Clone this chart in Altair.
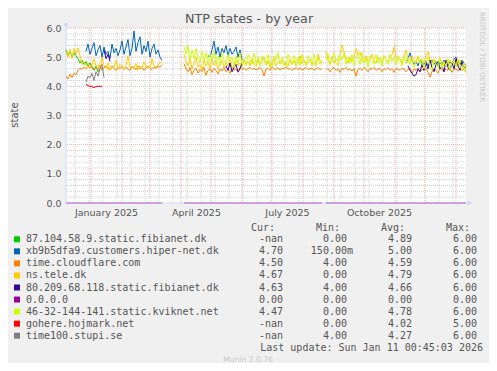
import altair as alt
import pandas as pd

TITLE = "NTP states - by year"
Y_TITLE = "state"
START_DATE = "2024-12-07"
END_DATE = "2026-01-11"
STEP_DAYS = 2

NAMES = ["87.104.58.9.static.fibianet.dk", "xb9b5dfa9.customers.hiper-net.dk",
         "time.cloudflare.com", "ns.tele.dk", "80.209.68.118.static.fibianet.dk",
         "0.0.0.0", "46-32-144-141.static.kviknet.net", "gohere.hojmark.net",
         "time100.stupi.se"]
COLORS = ["#00CC00", "#0066B3", "#FF8000", "#FFCC00", "#330099",
          "#990099", "#CCFF00", "#FF0000", "#808080"]
CUR = ["-nan", "4.70", "4.50", "4.67", "4.63", "0.00", "4.47", "-nan", "-nan"]
MIN = ["0.00", "150.00m", "4.00", "0.00", "4.00", "0.00", "0.00", "0.00", "4.00"]
AVG = ["4.89", "5.00", "4.59", "4.79", "4.66", "0.00", "4.78", "4.02", "4.27"]
MAX = ["6.00", "6.00", "6.00", "6.00", "6.00", "0.00", "6.00", "5.00", "6.00"]
HEADERS = ["Cur:", "Min:", "Avg:", "Max:"]
LAST_UPDATE = "Last update: Sun Jan 11 00:45:03 2026"
FOOTER = "Munin 2.0.76"
WATERMARK = "RRDTOOL / TOBI OETIKER"
X_LABEL_DATES = ["2025-01-16", "2025-04-16", "2025-07-16", "2025-10-16"]
Y_TICKS = [0, 1, 2, 3, 4, 5, 6]

# each series: list of (start index on a 2-day grid from START_DATE, values)
GREEN = [(0, [5.25, 5.05, 5.2, 5.0, 5.15, 5.05, 4.95, 4.8, 4.9, 4.75,
              4.85, 4.7, 4.8, 4.65, 4.55, 4.7, 4.5, 4.6])]
BLUE = [(10, [5.2, 5.45, 5.1, 5.3, 5.5, 5.05, 5.25, 5.4, 5.0, 5.35,
              5.1, 5.2, 4.95, 5.45, 5.15, 5.3, 5.05, 5.25, 5.55, 5.1,
              5.35, 5.6, 5.05, 5.3, 5.9, 5.2, 5.5, 5.7, 5.1, 5.4,
              5.2, 5.55, 5.0, 5.3, 5.45, 5.1, 5.25, 5.0, 4.9]),
        (71, [5.05, 5.0, 5.25, 5.55, 5.1, 5.35, 5.0, 5.3, 5.15, 5.4, 5.05,
              5.3, 5.1, 5.2, 5.35, 5.0, 5.25, 4.9]),
        (170, [4.8, 4.95, 5.15, 4.9, 4.75, 4.85, 4.7, 4.9, 4.8, 4.75,
               4.85, 4.7, 4.8, 4.9, 4.75, 4.85, 4.7, 4.8, 4.75, 4.9,
               4.8, 4.7, 4.85, 4.75, 4.95, 5.0, 4.85, 4.75, 4.9, 4.8, 4.7])]
ORANGE = [(0, [4.35, 4.25, 4.42, 4.3, 4.45, 4.4, 4.55, 4.62, 4.58, 4.66,
               4.6, 4.68, 4.62, 4.7, 4.58, 4.65, 4.6, 4.72, 4.55, 4.63,
               4.7, 4.6, 4.57, 4.68, 4.62, 4.54, 4.66, 4.6, 4.7, 4.58,
               4.65, 4.6, 4.55, 4.68, 4.62, 4.57, 4.7, 4.6, 4.65, 4.55,
               4.63, 4.68, 4.6, 4.58, 4.66, 4.62, 4.7, 4.66, 4.75]),
          (59, [4.78, 4.6, 4.5, 4.65, 4.4, 4.55, 4.62, 4.45, 4.58, 4.5,
                4.65, 4.38, 4.55, 4.6, 4.48, 4.62, 4.55, 4.42, 4.6, 4.52,
                4.65, 4.5, 4.58, 4.45, 4.62, 4.55, 4.6, 4.48, 4.65, 4.58,
                4.62, 4.55, 4.6, 4.65, 4.58, 4.62, 4.56, 4.6, 4.64, 4.58,
                4.35, 4.6, 4.62, 4.55, 4.66, 4.6, 4.58, 4.64, 4.56, 4.62,
                4.6, 4.66, 4.58, 4.62, 4.55, 4.6, 4.64, 4.58, 4.62, 4.56,
                4.6, 4.65, 4.58, 4.6, 4.62, 4.56, 4.6, 4.64, 4.58, 4.6]),
          (130, [4.55, 4.62, 4.5, 4.6, 4.65, 4.55, 4.6, 4.48, 4.62, 4.58,
                 4.65, 4.55, 4.6, 4.52, 4.62, 4.35, 4.58, 4.62, 4.55, 4.65,
                 4.6, 4.5, 4.62, 4.58, 4.65, 4.55, 4.6, 4.62, 4.5, 4.6,
                 4.58, 4.65, 4.55, 4.6, 4.48, 4.62, 4.58, 4.55, 4.62, 4.6,
                 4.5, 4.58, 4.62, 4.45, 4.6, 4.55, 4.62, 4.5, 4.58, 4.55,
                 4.62, 4.48, 4.32, 4.5, 4.6, 4.55, 4.45, 4.62, 4.58, 4.5,
                 4.6, 4.55, 4.62, 4.48, 4.58, 4.6, 4.52, 4.62, 4.55, 4.58,
                 4.5])]
YELLOW = [(0, [5.2, 5.0, 5.28, 4.95, 5.3, 5.1, 5.32, 5.05, 4.75, 4.85,
               4.7, 4.8, 4.65, 4.72, 4.95, 4.68, 4.75, 4.6, 5.0, 4.7,
               4.62, 4.8, 4.55, 4.72, 4.65, 4.9, 4.6, 4.75, 4.68, 4.58,
               4.72, 5.05, 4.65, 4.7, 4.6, 4.78, 4.55, 4.7, 4.62, 4.85,
               4.65, 4.72, 4.6, 4.95, 4.7, 4.65, 4.75, 4.8, 4.85]),
          (59, [5.1, 4.85, 4.7, 4.95, 4.6, 4.8, 5.0, 4.65, 4.75, 4.55,
                4.9, 4.7, 4.82, 4.6, 4.95, 4.72, 4.85, 4.6, 4.78, 4.9,
                4.65, 4.8, 4.7, 4.95, 4.62, 4.75, 4.88, 4.7, 4.8, 4.65,
                4.92, 4.75, 4.85, 4.7, 4.95, 4.78, 4.68, 4.9, 4.75, 4.85,
                5.0, 4.72, 4.88, 4.65, 4.8, 4.95, 4.7, 4.85, 4.78, 4.9,
                4.72, 4.82, 4.68, 4.95, 4.75, 4.88, 4.7, 4.8, 5.05, 4.78,
                4.9, 4.72, 4.85, 4.95, 4.75, 4.82, 4.7, 5.1, 4.88, 4.8]),
          (130, [5.2, 4.9, 4.75, 5.0, 4.8, 4.95, 4.85, 5.1, 5.42, 5.2,
                 4.9, 4.8, 5.0, 4.85, 4.95, 5.3, 5.05, 5.18, 4.9, 4.8,
                 5.05, 4.85, 4.95, 5.1, 4.88, 4.8, 5.0, 4.9, 4.82, 5.05,
                 4.9, 4.85, 5.0, 5.1, 5.35, 5.0, 4.88, 4.95, 4.8, 5.0,
                 5.25, 4.95, 4.85, 5.05, 4.9, 4.8, 5.0, 4.85, 4.92, 4.8,
                 5.0, 5.2, 4.9, 4.8, 4.95, 4.85, 4.75, 4.9, 4.8, 4.7,
                 4.85, 4.78, 4.9, 4.72, 4.8, 4.85, 4.7, 4.9, 4.75, 4.8,
                 4.67])]
INDIGO = [(19, [5.25, 4.95, 5.1, 4.85]),
          (80, [4.7, 4.55, 4.8, 4.5, 4.65, 4.75, 4.5, 4.6, 4.8]),
          (171, [4.7, 4.55, 4.45, 4.35, 4.4, 4.6, 4.5, 4.75, 4.55, 4.8,
                 4.6, 4.9, 4.65, 4.5, 4.75, 4.85, 4.6, 4.7, 4.5, 4.9,
                 4.65, 4.55, 4.8, 4.6, 4.95, 4.7, 4.55, 4.85, 4.65, 4.63])]
MAGENTA = [(0, [0.0] * 49), (59, [0.0] * 70), (130, [0.0] * 71)]
YGREEN = [(59, [5.35, 5.1, 5.4, 4.9, 5.25, 4.95, 5.3, 5.0, 4.8, 5.2,
                4.9, 5.15, 4.75, 5.1, 4.9, 5.2, 4.8, 5.05, 4.7, 5.15,
                4.9, 4.75, 5.1, 4.85, 5.0, 4.65, 5.05, 4.8, 5.15, 4.75,
                4.95, 4.7, 5.1, 4.9, 4.75, 5.15, 4.8, 5.0, 4.7, 5.05,
                4.9, 4.75, 5.1, 4.8, 4.65, 5.05, 4.9, 5.15, 4.75, 5.0,
                4.85, 4.7, 5.1, 4.9, 4.75, 5.05, 4.8, 5.0, 4.72, 5.1,
                4.85, 4.75, 5.05, 4.9, 4.7, 5.1, 4.8, 5.0, 4.75, 4.9]),
          (130, [4.9, 5.1, 4.75, 5.0, 5.15, 4.8, 4.7, 5.05, 4.9, 5.15,
                 4.75, 5.0, 4.8, 5.1, 4.7, 4.95, 5.05, 4.75, 5.15, 4.8,
                 5.0, 4.65, 5.05, 4.9, 4.75, 5.1, 4.8, 5.0, 4.7, 5.05,
                 4.9, 4.75, 5.1, 4.85, 5.0, 4.75, 5.05, 4.9, 4.7, 5.1,
                 4.8, 5.0, 4.75, 4.95, 4.65, 4.85, 5.05, 4.75, 4.95, 4.6,
                 4.85, 5.0, 4.7, 4.55, 4.9, 4.75, 4.65, 5.0, 4.6, 4.85,
                 4.7, 4.95, 4.55, 4.8, 4.9, 4.65, 4.95, 4.7, 4.55, 4.8,
                 4.47])]
RED = [(10, [4.08, 4.02, 4.0, 4.0, 3.95, 4.0, 4.0, 4.0, 4.0])]
GRAY = [(10, [4.15, 4.35, 4.3, 4.45, 4.2, 4.5, 4.35, 4.6, 4.75, 4.3])]

SERIES_SEGMENTS = [GREEN, BLUE, ORANGE, YELLOW, INDIGO, MAGENTA, YGREEN, RED, GRAY]

# ---------------------------------------------------------------- data tables
start = pd.Timestamp(START_DATE)
rows = []
for s, (name, segs) in enumerate(zip(NAMES, SERIES_SEGMENTS)):
    for g, (k0, vals) in enumerate(segs):
        for i, v in enumerate(vals):
            d = start + pd.Timedelta(days=STEP_DAYS * (k0 + i))
            rows.append({"series": name, "seg": f"{s}-{g}",
                         "date": d.strftime("%Y-%m-%d"), "value": v})
df = pd.DataFrame(rows)


def dt(s):
    t = pd.Timestamp(s)
    return alt.DateTime(year=t.year, month=t.month, date=t.day, utc=True)


minor_v = pd.DataFrame({"date": [d.strftime("%Y-%m-%d") for d in
                                 pd.date_range("2024-12-16", END_DATE, freq="14D")]})
major_v = pd.DataFrame({"date": [d.strftime("%Y-%m-%d") for d in
                                 pd.date_range("2025-01-01", END_DATE, freq="MS")]})
minor_h = pd.DataFrame({"value": [i / 5 for i in range(1, 30) if i % 5]})
major_h = pd.DataFrame({"value": [1, 2, 3, 4, 5, 6]})

FONT = "DejaVu Sans"
MONO = "DejaVu Sans Mono"
TXT = "#555555"
GRID = "#D2D2D2"
MGRID = "#EDB0B0"

xscale = alt.Scale(type="utc", domain=[dt(START_DATE), dt(END_DATE)])
xaxis = alt.Axis(values=[dt(d) for d in X_LABEL_DATES],
                 labelExpr="utcFormat(datum.value, '%B %Y')",
                 ticks=False, domain=False, grid=False, labelFont=FONT,
                 labelFontSize=9.5, labelColor=TXT, labelPadding=4,
                 labelFlush=False, labelOverlap=False, title=None)
yaxis = alt.Axis(values=Y_TICKS, format=".1f", ticks=False, domain=False,
                 grid=False, labelFont=FONT, labelFontSize=9.5,
                 labelColor=TXT, labelPadding=5, title=None)
X = alt.X("date:T", scale=xscale, axis=xaxis)
Y = alt.Y("value:Q", scale=alt.Scale(domain=[0, 6], nice=False), axis=yaxis)

layers = []
layers.append(alt.Chart(minor_v).mark_rule(color=GRID, strokeDash=[1, 1], strokeWidth=1).encode(x=X))
layers.append(alt.Chart(minor_h).mark_rule(color=GRID, strokeDash=[1, 1], strokeWidth=1).encode(y=Y))
layers.append(alt.Chart(major_v).mark_rule(color=MGRID, strokeDash=[1, 1], strokeWidth=1).encode(x=X))
layers.append(alt.Chart(major_h).mark_rule(color=MGRID, strokeDash=[1, 1], strokeWidth=1).encode(y=Y))

one = pd.DataFrame({"a": [0]})
AXC = "#CFD6F8"
layers.append(alt.Chart(one).mark_rule(color=AXC, strokeWidth=1).encode(
    x=alt.value(0), y=alt.value(-5), y2=alt.value(175)))
layers.append(alt.Chart(one).mark_rule(color=AXC, strokeWidth=1).encode(
    x=alt.value(0), x2=alt.value(404), y=alt.value(175)))
layers.append(alt.Chart(one).mark_point(shape="triangle-up", filled=True, size=28,
                                        color=AXC, opacity=1).encode(
    x=alt.value(0), y=alt.value(-4)))
layers.append(alt.Chart(one).mark_point(shape="triangle-right", filled=True, size=28,
                                        color=AXC, opacity=1).encode(
    x=alt.value(404), y=alt.value(175)))

for name, color in zip(NAMES, COLORS):
    op = 0.6 if name == "0.0.0.0" else 1
    layers.append(alt.Chart(df).transform_filter(alt.datum.series == name)
                  .mark_line(color=color, strokeWidth=1, opacity=op)
                  .encode(x=X, y=Y, detail="seg:N"))

# texts
layers.append(alt.Chart(pd.DataFrame({"t": [TITLE]})).mark_text(
    font=FONT, fontSize=12.7, color=TXT, align="center", baseline="middle").encode(
    x=alt.value(183), y=alt.value(-9), text="t:N"))
layers.append(alt.Chart(pd.DataFrame({"t": [Y_TITLE]})).mark_text(
    font=FONT, fontSize=10, color=TXT, align="center", baseline="middle", angle=270).encode(
    x=alt.value(-51), y=alt.value(87), text="t:N"))
layers.append(alt.Chart(pd.DataFrame({"t": [WATERMARK]})).mark_text(
    font=FONT, fontSize=7, color="#C8C8C8", align="center", baseline="middle", angle=90).encode(
    x=alt.value(416), y=alt.value(29), text="t:N"))

leg = pd.DataFrame({"name": NAMES, "color": COLORS, "cur": CUR, "mn": MIN,
                    "avg": AVG, "mx": MAX, "i": list(range(len(NAMES)))})
legbase = alt.Chart(leg).transform_calculate(
    ry="211.3 + 12.05 * datum.i",
    mnx="indexof(datum.mn, 'm') >= 0 ? 287 : 281")
RY = alt.Y("ry:Q", scale=None, axis=None)
layers.append(legbase.mark_square(size=36, filled=True, opacity=1).encode(
    x=alt.value(-49), y=RY, color=alt.Color("color:N", scale=None, legend=None)))
tkw = dict(font=MONO, fontSize=10, color=TXT, baseline="middle")
layers.append(legbase.mark_text(align="left", **tkw).encode(x=alt.value(-40), y=RY, text="name:N"))
layers.append(legbase.mark_text(align="right", **tkw).encode(x=alt.value(217), y=RY, text="cur:N"))
layers.append(legbase.mark_text(align="right", **tkw).encode(
    x=alt.X("mnx:Q", scale=None, axis=None), y=RY, text="mn:N"))
layers.append(legbase.mark_text(align="right", **tkw).encode(x=alt.value(346), y=RY, text="avg:N"))
layers.append(legbase.mark_text(align="right", **tkw).encode(x=alt.value(411), y=RY, text="mx:N"))

hdr = pd.DataFrame({"h": HEADERS, "c": list(range(len(HEADERS)))})
layers.append(alt.Chart(hdr).transform_calculate(hx="209 + 65 * datum.c").mark_text(
    align="right", **tkw).encode(x=alt.X("hx:Q", scale=None, axis=None), y=alt.value(200), text="h:N"))
layers.append(alt.Chart(pd.DataFrame({"t": [LAST_UPDATE]})).mark_text(
    align="right", **tkw).encode(x=alt.value(417), y=alt.value(320), text="t:N"))
layers.append(alt.Chart(pd.DataFrame({"t": [FOOTER]})).mark_text(
    font=FONT, fontSize=7.6, color="#C8C8C8", align="center", baseline="middle").encode(
    x=alt.value(182), y=alt.value(332), text="t:N"))

chart = alt.layer(*layers).properties(
    width=400, height=175,
    autosize=alt.AutoSizeParams(type="none"),
    padding={"left": 58, "top": 20, "right": 23, "bottom": 160},
).configure(background="#F0F0F0").configure_view(fill="white", stroke=None)

chart.save("out.html", embed_options={"renderer": "svg", "actions": False})
